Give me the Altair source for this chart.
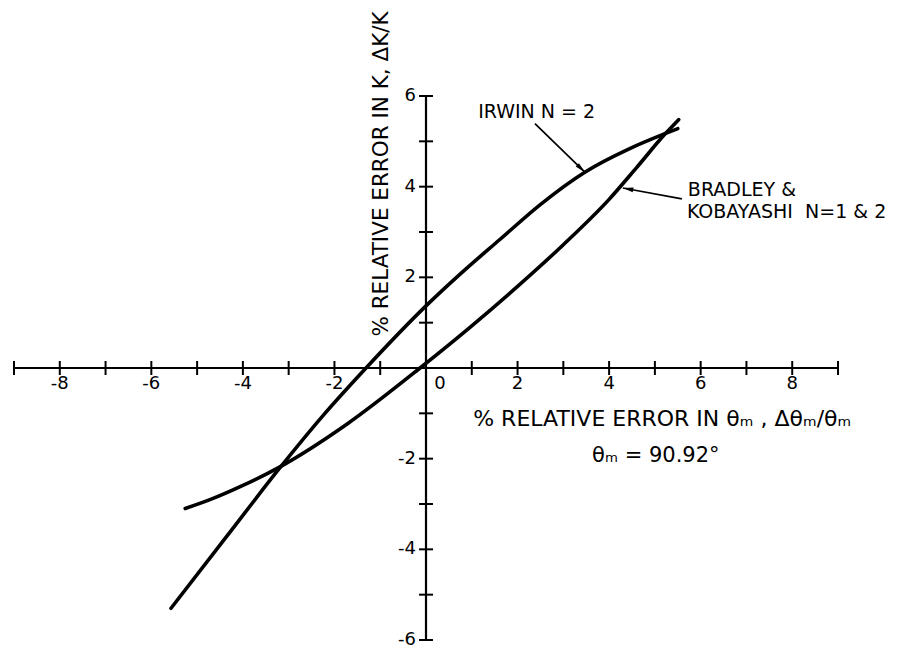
import altair as alt
import pandas as pd
import numpy as np

# ---------------- data ----------------
irwin_x = [-5.57, -4.35, -3.19, -2.25, -1.31, 0.0, 0.80, 1.62, 2.49, 3.47, 4.45, 5.22, 5.50]
irwin_y = [-5.30, -3.71, -2.20, -1.05, 0.0, 1.37, 2.12, 2.84, 3.60, 4.32, 4.84, 5.17, 5.28]

bk_x = [-5.26, -4.72, -4.00, -3.19, -1.73, -0.13, 1.00, 2.00, 3.00, 4.00, 4.60, 5.22, 5.52]
bk_y = [-3.10, -2.905, -2.59, -2.18, -1.24, 0.00, 0.93, 1.80, 2.72, 3.72, 4.42, 5.16, 5.48]

x_tick_values = [-9, -8, -7, -6, -5, -4, -3, -2, -1, 1, 2, 3, 4, 5, 6, 7, 8, 9]
y_tick_values = [-6, -5, -4, -3, -2, -1, 1, 2, 3, 4, 5, 6]
x_tick_labels = ["-8", "-6", "-4", "-2", "2", "4", "6", "8"]
x_tick_label_pos = [-8, -6, -4, -2, 2, 4, 6, 8]
y_tick_labels = ["6", "4", "2", "-2", "-4", "-6"]
y_tick_label_pos = [6, 4, 2, -2, -4, -6]
x_axis_range = [-9, 9]
y_axis_range = [-6, 6]

x_title = "% RELATIVE ERROR IN \u03b8\u2098 , \u0394\u03b8\u2098/\u03b8\u2098"
x_title_pos = [5.16, -1.12]
sub_title = "\u03b8\u2098 = 90.92\u00b0"
sub_title_pos = [5.02, -1.94]
y_title = "% RELATIVE ERROR IN K, \u0394K/K"
y_title_pos = [-0.96, 4.28]

notes = ["IRWIN N = 2", "BRADLEY &", "KOBAYASHI\u00a0\u00a0N=1 & 2"]
notes_x = [1.14, 5.72, 5.70]
notes_y = [5.65, 3.93, 3.45]

arrow_id = ["irwin", "bk"]
arrow_start_x = [2.38, 5.59]
arrow_start_y = [5.39, 3.73]
arrow_tip_x = [3.47, 4.30]
arrow_tip_y = [4.32, 3.97]

# ---------------- layout ----------------
W, H = 824, 544
FONT = "DejaVu Sans"
XS = alt.Scale(domain=x_axis_range, nice=False, zero=False)
YS = alt.Scale(domain=y_axis_range, nice=False, zero=False)
px_x = W / (x_axis_range[1] - x_axis_range[0])
px_y = H / (y_axis_range[1] - y_axis_range[0])


def X(field="x"):
    return alt.X(f"{field}:Q", scale=XS, axis=None)


def Y(field="y"):
    return alt.Y(f"{field}:Q", scale=YS, axis=None)


curves = pd.DataFrame({
    "x": irwin_x + bk_x,
    "y": irwin_y + bk_y,
    "series": ["Irwin"] * len(irwin_x) + ["BK"] * len(bk_x),
    "order": list(range(len(irwin_x))) + list(range(len(bk_x))),
})
curve_layer = alt.Chart(curves).mark_line(
    color="black", strokeWidth=3.6, interpolate="monotone", strokeCap="round"
).encode(x=X(), y=Y(), detail="series:N", order="order:Q")

axes_df = pd.DataFrame({"x0": [x_axis_range[0]], "x1": [x_axis_range[1]],
                        "y0": [y_axis_range[0]], "y1": [y_axis_range[1]],
                        "zero": [0]})
x_axis_line = alt.Chart(axes_df).mark_rule(color="black", strokeWidth=2.2).encode(
    x=X("x0"), x2="x1:Q", y=Y("zero"))
y_axis_line = alt.Chart(axes_df).mark_rule(color="black", strokeWidth=2.2).encode(
    y=Y("y0"), y2="y1:Q", x=X("zero"))

xt = pd.DataFrame({"x": x_tick_values, "zero": 0})
yt = pd.DataFrame({"y": y_tick_values, "zero": 0})
x_ticks = alt.Chart(xt).mark_rule(color="black", strokeWidth=2, yOffset=-7, y2Offset=7).encode(
    x=X(), y=Y("zero"), y2="zero:Q")
y_ticks = alt.Chart(yt).mark_rule(color="black", strokeWidth=2, xOffset=-7, x2Offset=7).encode(
    y=Y(), x=X("zero"), x2="zero:Q")

xl = pd.DataFrame({"x": x_tick_label_pos, "t": x_tick_labels, "zero": 0})
x_labels = alt.Chart(xl).mark_text(font=FONT, fontSize=18, dy=16, baseline="middle",
                                   color="black").encode(
    x=X(), y=Y("zero"), text="t:N")
zl = pd.DataFrame({"t": ["0"], "zero": [0]})
zero_label = alt.Chart(zl).mark_text(
    font=FONT, fontSize=18, dx=14, dy=16, baseline="middle", color="black").encode(
    x=X("zero"), y=Y("zero"), text="t:N")
yl = pd.DataFrame({"y": y_tick_label_pos, "t": y_tick_labels, "zero": 0})
y_labels = alt.Chart(yl).mark_text(font=FONT, fontSize=18, dx=-10, align="right",
                                   baseline="middle", color="black").encode(
    y=Y(), x=X("zero"), text="t:N")

xtitle_df = pd.DataFrame({"x": [x_title_pos[0]], "y": [x_title_pos[1]], "t": [x_title]})
xtitle = alt.Chart(xtitle_df).mark_text(font=FONT, fontSize=22, color="black",
                                        align="center", baseline="middle").encode(
    x=X(), y=Y(), text="t:N")
sub_df = pd.DataFrame({"x": [sub_title_pos[0]], "y": [sub_title_pos[1]], "t": [sub_title]})
subtitle = alt.Chart(sub_df).mark_text(font=FONT, fontSize=21, color="black",
                                       align="center", baseline="middle").encode(
    x=X(), y=Y(), text="t:N")
yt_df = pd.DataFrame({"x": [y_title_pos[0]], "y": [y_title_pos[1]], "t": [y_title]})
ytitle = alt.Chart(yt_df).mark_text(font=FONT, fontSize=21.5, color="black", angle=270,
                                    align="center", baseline="middle").encode(
    x=X(), y=Y(), text="t:N")

notes_df = pd.DataFrame({"x": notes_x, "y": notes_y, "t": notes})
notes_layer = alt.Chart(notes_df).mark_text(font=FONT, fontSize=19, color="black",
                                            align="left", baseline="middle").encode(
    x=X(), y=Y(), text="t:N")

arr_lines = pd.DataFrame({
    "x": arrow_start_x + arrow_tip_x,
    "y": arrow_start_y + arrow_tip_y,
    "id": arrow_id + arrow_id,
    "o": [0] * len(arrow_id) + [1] * len(arrow_id),
})
arrow_lines = alt.Chart(arr_lines).mark_line(color="black", strokeWidth=1.7).encode(
    x=X(), y=Y(), detail="id:N", order="o:Q")

ang = [float(np.degrees(np.arctan2((tx - sx) * px_x, (ty - sy) * px_y)) % 360)
       for sx, sy, tx, ty in zip(arrow_start_x, arrow_start_y, arrow_tip_x, arrow_tip_y)]
heads = pd.DataFrame({"x": arrow_tip_x, "y": arrow_tip_y, "a": ang})
arrow_heads = alt.Chart(heads).mark_point(
    shape="M0,0L0.45,2L-0.45,2Z", filled=True, color="black", size=110, opacity=1,
    strokeWidth=0
).encode(x=X(), y=Y(), angle=alt.Angle("a:Q", scale=None))

chart = alt.layer(
    x_axis_line, y_axis_line, x_ticks, y_ticks, x_labels, zero_label, y_labels,
    xtitle, subtitle, ytitle, notes_layer, arrow_lines, arrow_heads, curve_layer
).properties(
    width=W, height=H,
    autosize=alt.AutoSizeParams(type="none"),
    padding={"left": 14, "top": 96, "right": 63, "bottom": 11},
    background="white",
).configure_view(stroke=None)

chart.save("out.html", embed_options={"renderer": "svg", "actions": False})
